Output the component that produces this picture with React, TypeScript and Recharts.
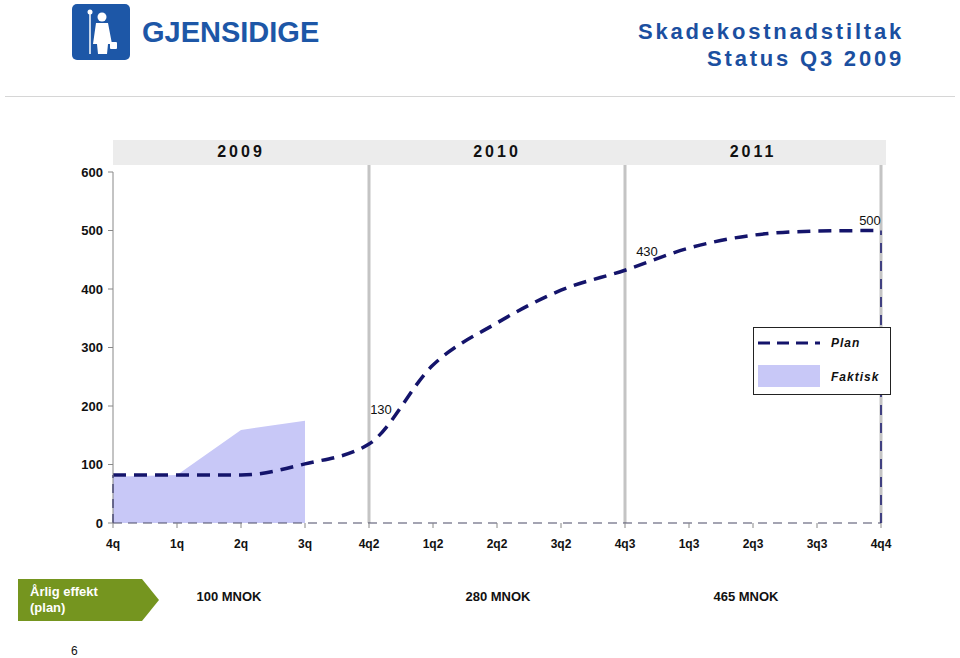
import { ComposedChart, Line, Area, XAxis, YAxis, ReferenceLine, LabelList } from 'recharts';

const quarters = ['4q', '1q', '2q', '3q', '4q2', '1q2', '2q2', '3q2', '4q3', '1q3', '2q3', '3q3', '4q4'];
const plan = [82, 82, 82, 101, 135, 270, 342, 398, 432, 470, 492, 499, 500];
const faktisk = [79, 82, 159, 175, null, null, null, null, null, null, null, null, null];
const planLabels = ['', '', '', '', '130', '', '', '', '430', '', '', '', '500'];
const yTicks = [0, 100, 200, 300, 400, 500, 600];
const years = ['2009', '2010', '2011'];
const yearDividers = ['4q2', '4q3', '4q4'];
const effekt = ['100 MNOK', '280 MNOK', '465 MNOK'];

const FONT = '"Liberation Sans", Arial, sans-serif';
const NAVY = '#14146b';
const LAVENDER = '#c8c8f7';
const GREY = '#c4c4c4';

// offsets of the value labels relative to their point
const labelOffset: Record<number, [number, number]> = {
  4: [12, -30],
  8: [22, -14],
  12: [-11, -6],
};

const data = quarters.map((q, i) => ({
  q,
  plan: plan[i],
  faktisk: faktisk[i],
  label: planLabels[i],
}));

const renderLabel = (props: any) => {
  const { x, y, value, index } = props;
  if (!value) return null;
  const [dx, dy] = labelOffset[index] || [0, -10];
  return (
    <text x={x + dx} y={y + dy} textAnchor="middle" fontSize={13} fill="#111" fontFamily={FONT}>
      {value}
    </text>
  );
};

const Logo = () => (
  <div style={{ position: 'absolute', left: 72, top: 4, display: 'flex', alignItems: 'center' }}>
    <svg width={58} height={56}>
      <rect x={0} y={0} width={58} height={56} rx={5} fill="#1d57a7" />
      <line x1={18} y1={8} x2={18} y2={50} stroke="#fff" strokeWidth={1.5} />
      <circle cx={18} cy={8} r={2.5} fill="#fff" />
      <circle cx={30} cy={13} r={4.5} fill="#fff" />
      <path d="M24 19 L36 19 L40 40 L36 40 L35 50 L26 50 L25 40 L21 40 Z" fill="#fff" />
      <rect x={38} y={38} width={7} height={7} rx={1} fill="#fff" />
    </svg>
    <span
      style={{
        marginLeft: 12,
        fontFamily: FONT,
        fontWeight: 'bold',
        fontSize: 29,
        color: '#1d57a7',
        letterSpacing: 0,
      }}
    >
      GJENSIDIGE
    </span>
  </div>
);

export default function App() {
  return (
    <div style={{ position: 'absolute', left: 0, top: 0, width: 960, height: 658, background: '#fff', fontFamily: FONT, overflow: 'hidden' }}>
      <Logo />
      <div
        style={{
          position: 'absolute',
          right: 56,
          top: 18,
          textAlign: 'right',
          color: '#1b4fa0',
          fontWeight: 'bold',
          fontSize: 22,
          letterSpacing: 2.8,
          lineHeight: '27px',
        }}
      >
        <div>Skadekostnadstiltak</div>
        <div>Status Q3 2009</div>
      </div>
      <div style={{ position: 'absolute', left: 5, top: 96, width: 950, height: 1, background: '#d6d6d6' }} />

      {/* year band */}
      <div style={{ position: 'absolute', left: 113, top: 140, width: 773, height: 25, background: '#ececec' }} />
      {years.map((y, i) => (
        <div
          key={y}
          style={{
            position: 'absolute',
            left: 241 + i * 256 - 50,
            width: 100,
            top: 143,
            textAlign: 'center',
            fontWeight: 'bold',
            fontSize: 16,
            letterSpacing: 3,
            color: '#111',
          }}
        >
          {y}
        </div>
      ))}

      <div style={{ position: 'absolute', left: 0, top: 0 }}>
        <ComposedChart
          width={960}
          height={658}
          data={data}
          margin={{ top: 172, right: 79, bottom: 105, left: 53 }}
        >
          <XAxis
            dataKey="q"
            scale="point"
            padding={{ left: 0, right: 0 }}
            axisLine={false}
            tickLine={{ stroke: '#888' }}
            tickSize={5}
            tickMargin={11}
            height={30}
            tick={{ fontSize: 12, fontWeight: 'bold', fill: '#111', fontFamily: FONT }}
            interval={0}
          />
          <YAxis
            domain={[0, 600]}
            ticks={yTicks}
            width={60}
            axisLine={{ stroke: '#888' }}
            tickLine={{ stroke: '#888' }}
            tickSize={5}
            tickMargin={5}
            tick={{ fontSize: 13, fontWeight: 'bold', fill: '#111', fontFamily: FONT }}
            interval={0}
          />
          {yearDividers.map((q) => (
            <ReferenceLine
              key={q}
              segment={[{ x: q, y: 0 }, { x: q, y: 612 }]}
              ifOverflow="visible"
              stroke={GREY}
              strokeWidth={3}
            />
          ))}
          <Area
            dataKey="faktisk"
            type="linear"
            fill={LAVENDER}
            fillOpacity={1}
            stroke="none"
            isAnimationActive={false}
            dot={false}
            activeDot={false}
          />
          <ReferenceLine y={0} stroke="#4a4a66" strokeWidth={1.2} strokeDasharray="9 6" />
          <ReferenceLine
            segment={[{ x: quarters[0], y: 0 }, { x: quarters[0], y: plan[0] }]}
            stroke={NAVY}
            strokeWidth={1.5}
            strokeDasharray="9 6"
          />
          <ReferenceLine
            segment={[{ x: quarters[12], y: 0 }, { x: quarters[12], y: plan[12] }]}
            stroke={NAVY}
            strokeWidth={1.5}
            strokeDasharray="10 8"
          />
          <Line
            dataKey="plan"
            type="monotone"
            stroke={NAVY}
            strokeWidth={3.5}
            strokeDasharray="13 8"
            dot={false}
            activeDot={false}
            isAnimationActive={false}
          >
            <LabelList dataKey="label" content={renderLabel} />
          </Line>
        </ComposedChart>
      </div>

      {/* legend */}
      <div
        style={{
          position: 'absolute',
          left: 753,
          top: 327,
          width: 138,
          height: 68,
          border: '1px solid #222',
          background: '#fff',
          boxSizing: 'border-box',
        }}
      >
        <svg width={70} height={66} style={{ position: 'absolute', left: 0, top: 0 }}>
          <line x1={4} y1={15} x2={66} y2={15} stroke={NAVY} strokeWidth={3} strokeDasharray="12 7" />
          <rect x={4} y={37} width={62} height={22} fill={LAVENDER} />
        </svg>
        <div style={{ position: 'absolute', left: 77, top: 8, fontSize: 12, fontWeight: 'bold', fontStyle: 'italic', letterSpacing: 1, color: '#111' }}>
          Plan
        </div>
        <div style={{ position: 'absolute', left: 77, top: 42, fontSize: 12, fontWeight: 'bold', fontStyle: 'italic', letterSpacing: 1, color: '#111' }}>
          Faktisk
        </div>
      </div>

      {/* bottom row */}
      <svg width={142} height={42} style={{ position: 'absolute', left: 18, top: 579 }}>
        <path d="M0 0 L124 0 L141 21 L124 42 L0 42 Z" fill="#75951f" />
        <text x={12} y={17} fill="#fff" fontSize={13} fontWeight="bold" fontFamily={FONT}>Årlig effekt</text>
        <text x={12} y={33} fill="#fff" fontSize={13} fontWeight="bold" fontFamily={FONT}>(plan)</text>
      </svg>
      {effekt.map((t, i) => (
        <div
          key={t}
          style={{
            position: 'absolute',
            left: [229, 498, 746][i] - 60,
            width: 120,
            top: 589,
            textAlign: 'center',
            fontWeight: 'bold',
            fontSize: 13,
            color: '#111',
          }}
        >
          {t}
        </div>
      ))}
      <div style={{ position: 'absolute', left: 71, top: 644, fontSize: 12, color: '#111' }}>6</div>
    </div>
  );
}
